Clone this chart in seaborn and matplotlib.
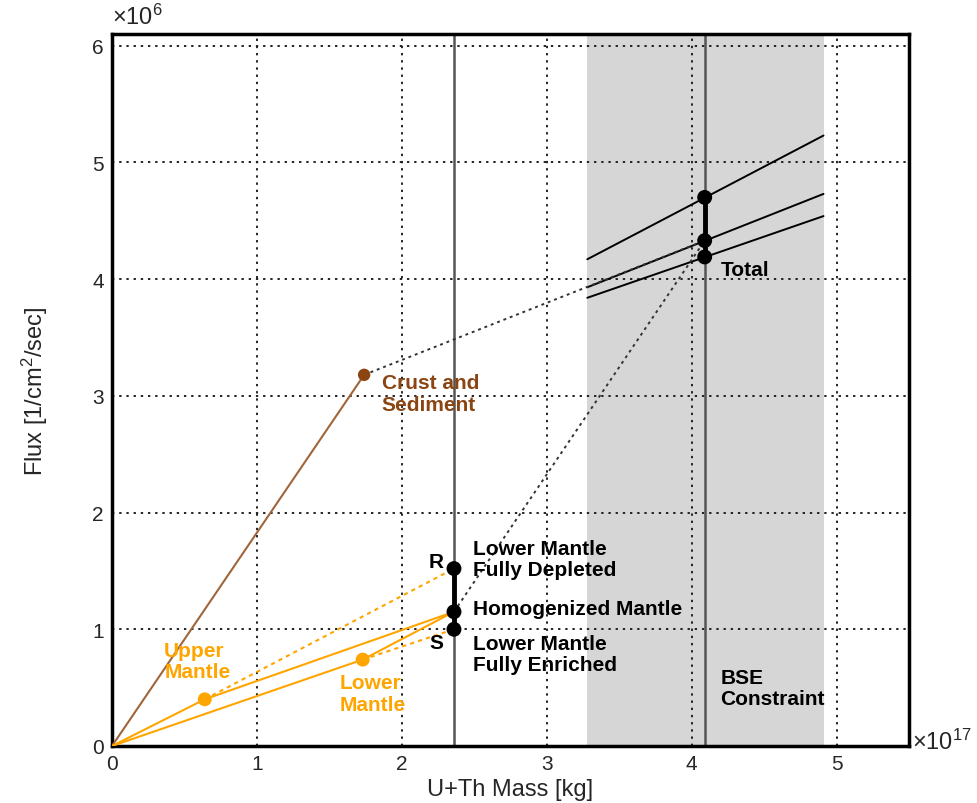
import matplotlib
matplotlib.use("Agg")
import matplotlib.pyplot as plt
import seaborn as sns
from matplotlib.ticker import MultipleLocator

# ---- data (mass in 1e17 kg, flux in 1e6 /cm^2/sec) ----
crust_mass, crust_flux = 1.74, 3.18
upper_mass, upper_flux = 0.64, 0.40
lower_mass, lower_flux = 1.73, 0.74
mantle_mass = 2.36
mantle_flux_depleted = 1.52      # R
mantle_flux_homog = 1.15
mantle_flux_enriched = 1.00      # S
total_mass = 4.09
total_flux = [4.70, 4.33, 4.19]
bse_range = [3.28, 4.91]
band_x = [3.28, 4.91]
band_lines_y0 = [4.17, 3.93, 3.84]
band_lines_y1 = [5.23, 4.73, 4.54]

ORANGE = "#ffa500"
BROWN_LINE = "#a0653a"
BROWN = "#8b4513"
VGRAY = "#555555"

sns.set_style("white")
plt.rcParams["font.family"] = ["Liberation Sans", "DejaVu Sans"]
plt.rcParams["mathtext.fontset"] = "custom"
plt.rcParams["mathtext.rm"] = "Liberation Sans"
plt.rcParams["mathtext.it"] = "Liberation Sans:italic"
plt.rcParams["mathtext.bf"] = "Liberation Sans:bold"

fig = plt.figure(figsize=(9.77, 8.04), dpi=100)
ax = fig.add_axes([112 / 977, 1 - 747 / 804, 797 / 977, 712 / 804])


def seg(x, y, **kw):
    sns.lineplot(x=x, y=y, ax=ax, estimator=None, sort=False, **kw)


# BSE constraint band
ax.axvspan(bse_range[0], bse_range[1], color="#d6d6d6", lw=0, zorder=0.5)

# vertical reference lines
ax.axvline(mantle_mass, color=VGRAY, lw=1.8, zorder=2)
ax.axvline(total_mass, color=VGRAY, lw=1.8, zorder=2)

# total flux lines across the constraint band
for y0, y1 in zip(band_lines_y0, band_lines_y1):
    seg(band_x, [y0, y1], color="black", lw=1.4, zorder=3)

# crust
seg([0, crust_mass], [0, crust_flux], color=BROWN_LINE, lw=1.5, zorder=3)
seg([crust_mass, total_mass], [crust_flux, total_flux[1]],
    color="#333333", lw=1.4, linestyle=(0, (1.5, 2)), zorder=3)
seg([mantle_mass, total_mass], [mantle_flux_homog, total_flux[1]],
    color="#333333", lw=1.4, linestyle=(0, (1.5, 2)), zorder=3)

# mantle parallelogram
seg([0, upper_mass], [0, upper_flux], color=ORANGE, lw=1.5, zorder=3)
seg([0, lower_mass], [0, lower_flux], color=ORANGE, lw=1.5, zorder=3)
seg([upper_mass, mantle_mass], [upper_flux, mantle_flux_homog], color=ORANGE, lw=1.5, zorder=3)
seg([lower_mass, mantle_mass], [lower_flux, mantle_flux_homog], color=ORANGE, lw=1.5, zorder=3)
seg([upper_mass, mantle_mass], [upper_flux, mantle_flux_depleted],
    color=ORANGE, lw=1.5, linestyle=(0, (2, 2)), zorder=3)
seg([lower_mass, mantle_mass], [lower_flux, mantle_flux_enriched],
    color=ORANGE, lw=1.5, linestyle=(0, (2, 2)), zorder=3)

# ranges
mantle_fluxes = [mantle_flux_depleted, mantle_flux_homog, mantle_flux_enriched]
seg([mantle_mass] * 3, mantle_fluxes, color="black", lw=3.5, zorder=4)
seg([total_mass] * 3, total_flux, color="black", lw=3.5, zorder=4)

# points
sns.scatterplot(x=[mantle_mass] * 3, y=mantle_fluxes, ax=ax, color="black",
                s=115, edgecolor="none", zorder=5)
sns.scatterplot(x=[total_mass] * 3, y=total_flux, ax=ax, color="black",
                s=115, edgecolor="none", zorder=5)
sns.scatterplot(x=[upper_mass, lower_mass], y=[upper_flux, lower_flux], ax=ax,
                color=ORANGE, s=100, edgecolor="none", zorder=5)
sns.scatterplot(x=[crust_mass], y=[crust_flux], ax=ax, color=BROWN,
                s=80, edgecolor="none", zorder=5)

# labels
fs = 15
kw = dict(fontsize=fs, fontweight="bold", linespacing=1.15, va="center", ha="left", zorder=6)
ax.text(1.86, 3.02, "Crust and\nSediment", color=BROWN, **kw)
ax.text(4.20, 4.08, "Total", color="black", **kw)
ax.text(2.49, 1.60, "Lower Mantle\nFully Depleted", color="black", **kw)
ax.text(2.49, 1.18, "Homogenized Mantle", color="black", **kw)
ax.text(2.49, 0.79, "Lower Mantle\nFully Enriched", color="black", **kw)
ax.text(0.36, 0.73, "Upper\nMantle", color=ORANGE, **kw)
ax.text(1.57, 0.45, "Lower\nMantle", color=ORANGE, **kw)
ax.text(4.20, 0.50, "BSE\nConstraint", color="black", **kw)
ax.text(2.24, 1.58, "R", color="black", fontsize=fs, fontweight="bold", ha="center", va="center")
ax.text(2.24, 0.89, "S", color="black", fontsize=fs, fontweight="bold", ha="center", va="center")

# axes styling
ax.set_xlim(0, 5.5)
ax.set_ylim(0, 6.1)
ax.xaxis.set_major_locator(MultipleLocator(1))
ax.xaxis.set_minor_locator(MultipleLocator(0.2))
ax.yaxis.set_major_locator(MultipleLocator(1))
ax.yaxis.set_minor_locator(MultipleLocator(0.2))
ax.tick_params(axis="both", which="major", direction="in", length=9, width=1.6,
               labelsize=15, pad=6)
ax.tick_params(axis="both", which="minor", direction="in", length=5, width=1.4)
ax.tick_params(top=False, right=False, which="both")
ax.grid(True, which="major", color="#222222", lw=1.4, linestyle=(0, (1.2, 2.5)))
for sp in ax.spines.values():
    sp.set_linewidth(2.5)
    sp.set_color("black")

ax.set_xlabel("U+Th Mass [kg]", fontsize=17)
ax.set_ylabel("Flux [1/cm$^2$/sec]", fontsize=17)
ax.xaxis.set_label_coords(0.5, -0.045)
ax.yaxis.set_label_coords(-0.078, 0.5)

fig.text(112 / 977, 1 - 30 / 804, r"$\times10^{6}$", fontsize=17, ha="left", va="bottom")
fig.text(912 / 977, 1 - 742 / 804, r"$\times10^{17}$", fontsize=17, ha="left", va="center")

fig.savefig("out.png", dpi=100)
